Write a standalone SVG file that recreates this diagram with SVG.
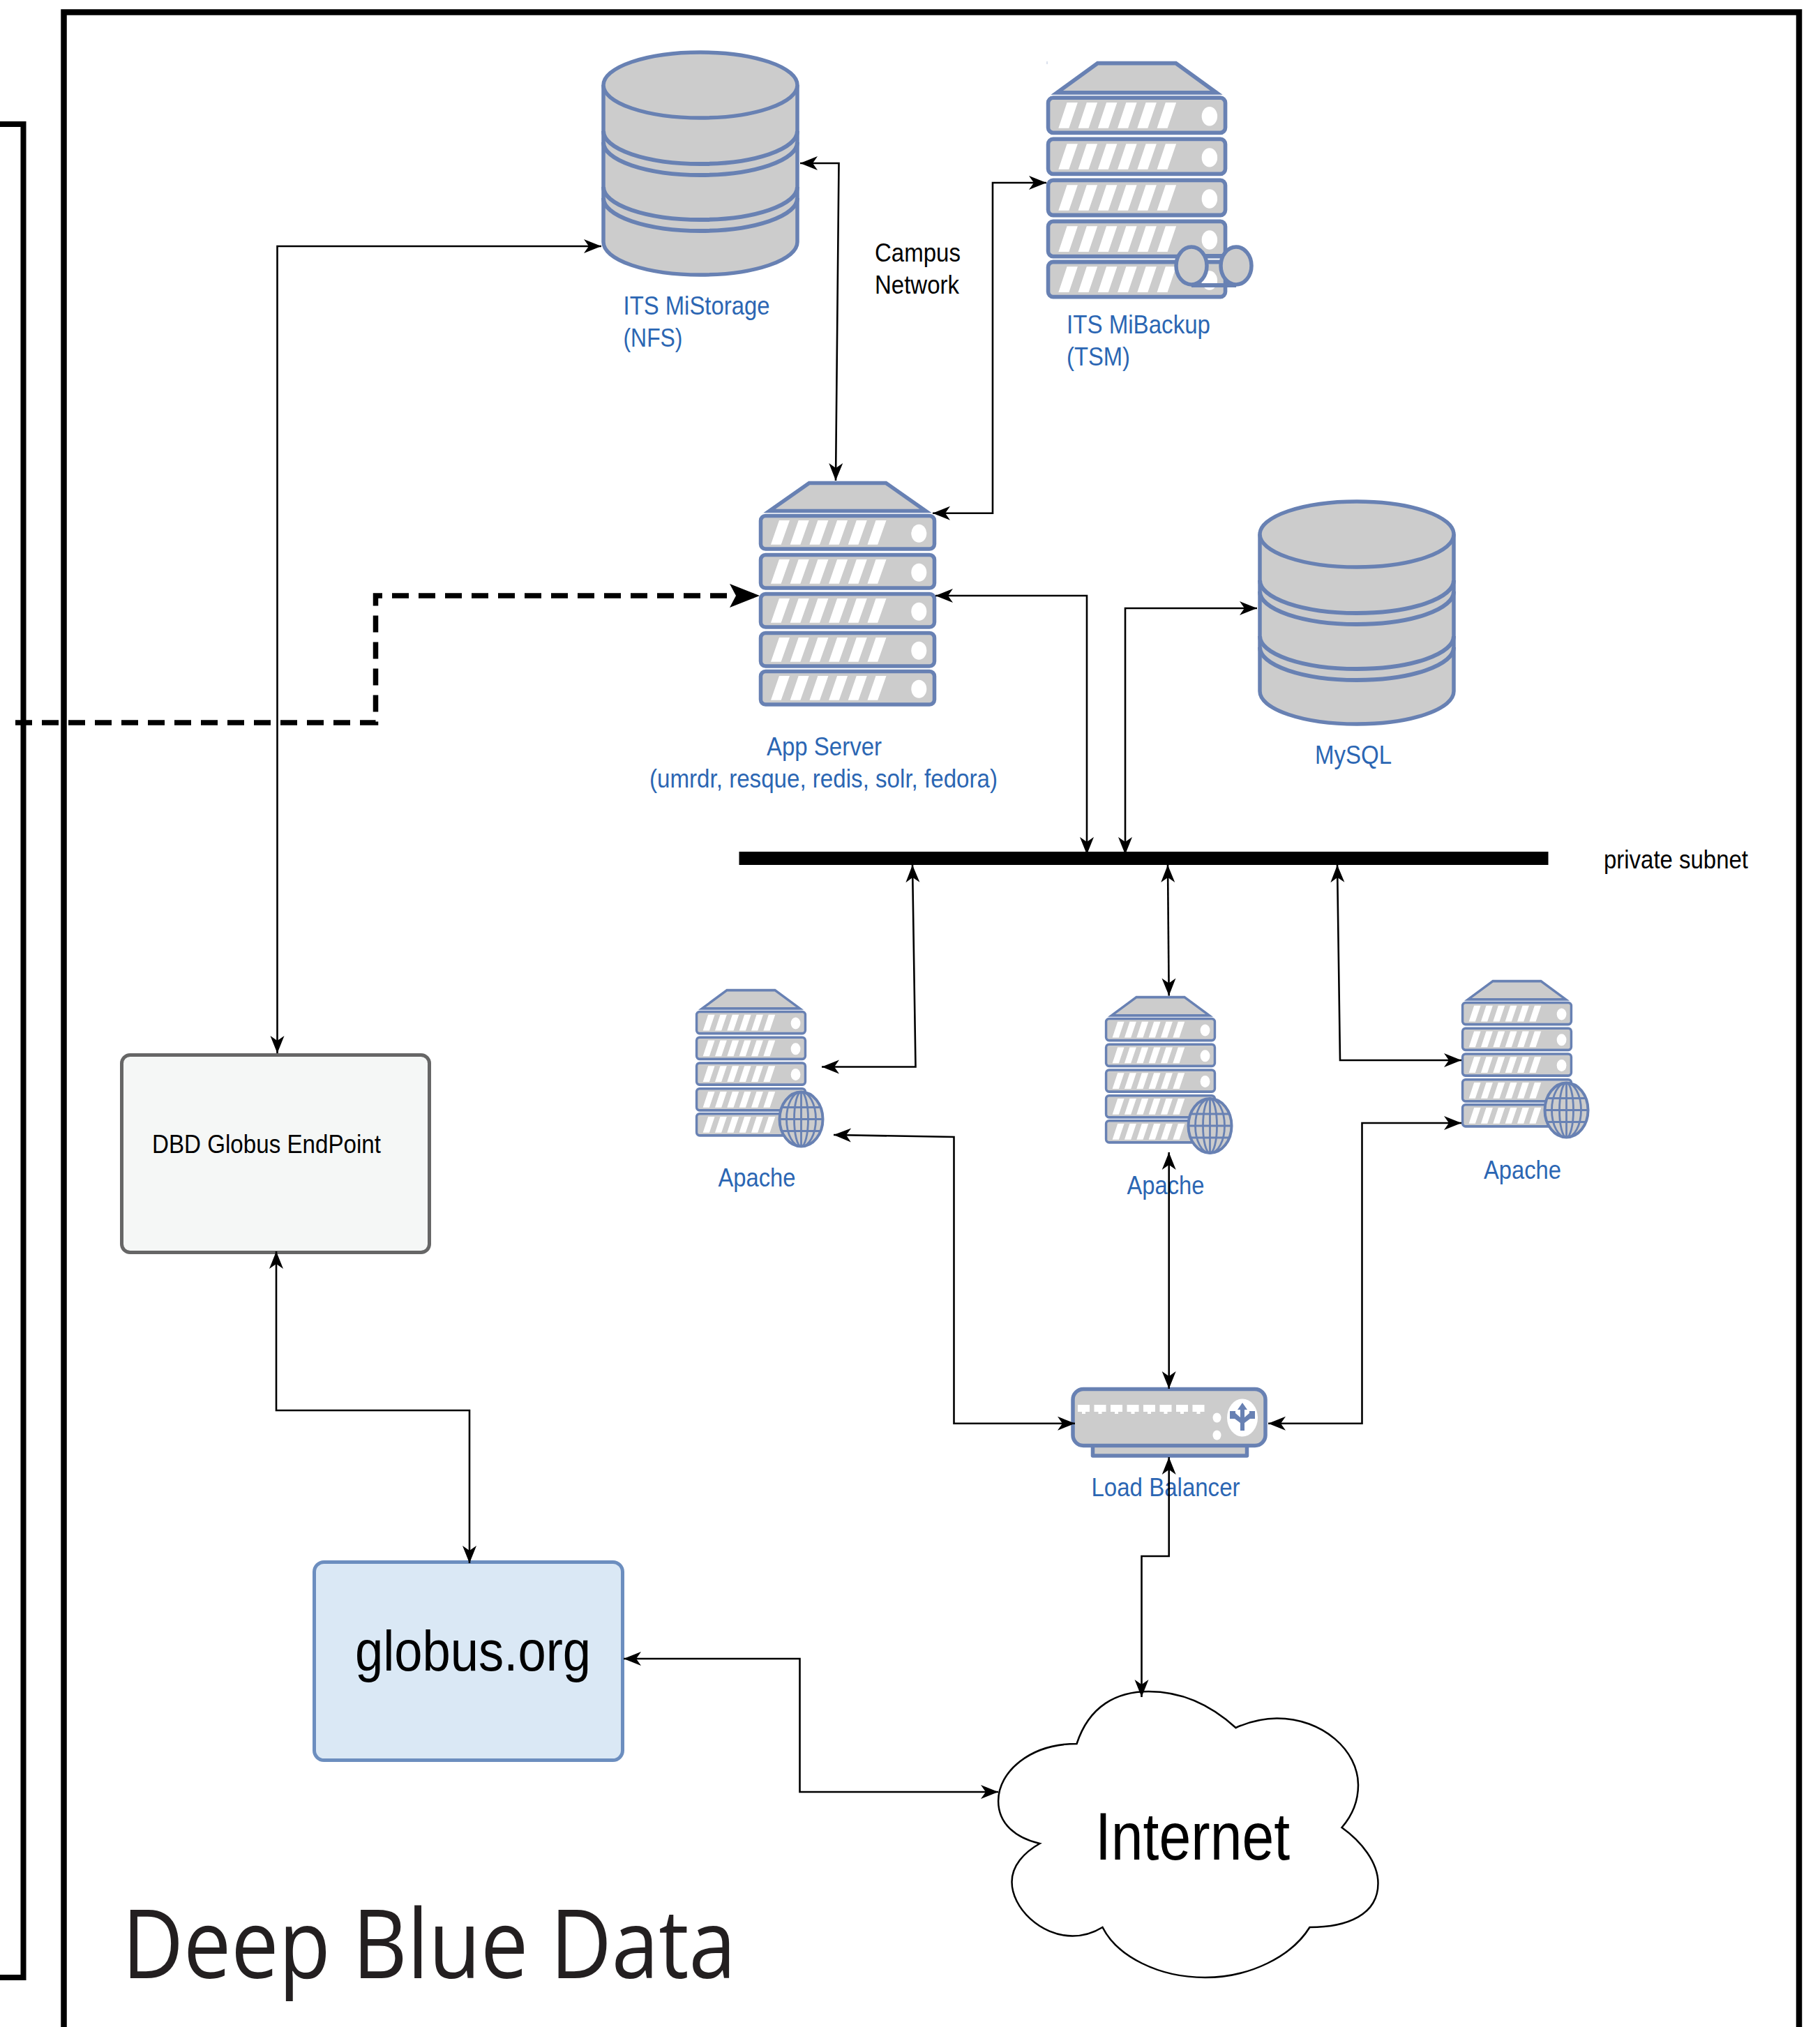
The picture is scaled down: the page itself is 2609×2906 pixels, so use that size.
<svg xmlns="http://www.w3.org/2000/svg" xmlns:xlink="http://www.w3.org/1999/xlink" width="2609" height="2906" viewBox="0 0 2609 2906">
<style>
.srv{fill:#CCCCCC;stroke:#6881B3;stroke-width:5.500;stroke-linejoin:round}
.top{fill:#CCCCCC;stroke:#6881B3;stroke-width:5.500;stroke-linejoin:miter;stroke-miterlimit:6}
.wht{fill:#FFFFFF;stroke:none}
.ln{fill:none;stroke:#6881B3;stroke-width:6}
.thin{fill:none;stroke:#6881B3;stroke-width:2.800}
.c{fill:none;stroke:#000000;stroke-width:2.600;marker-start:url(#a);marker-end:url(#a)}
.lbl{font-family:"Liberation Sans",Arial,sans-serif;font-size:37px;fill:#2B66B3}
.blk{font-family:"Liberation Sans",Arial,sans-serif;font-size:37px;fill:#000000}
</style>
<defs>
<marker id="a" markerUnits="userSpaceOnUse" markerWidth="28" markerHeight="24" refX="26" refY="12" orient="auto-start-reverse" viewBox="0 0 28 24"><path d="M1 2L26 12L1 22L8 12Z" fill="#000"/></marker>
<marker id="b" markerUnits="userSpaceOnUse" markerWidth="46" markerHeight="38" refX="44" refY="19" orient="auto" viewBox="0 0 46 38"><path d="M1 2L44 19L1 36L10 19Z" fill="#000"/></marker>
<g id="row">
<rect class="srv" x="2.500" y="49.500" width="249" height="47.500" rx="7"/>
<path class="wht" d="M17 90.700H31.700L44 56H29ZM44.700 90.700H59.400L71.700 56H56.700ZM72.400 90.700H87.100L99.400 56H84.400ZM100.100 90.700H114.800L127.100 56H112.100ZM127.800 90.700H142.500L154.800 56H139.800ZM155.500 90.700H170.200L182.500 56H167.500Z"/>
<ellipse class="wht" cx="229.300" cy="74.700" rx="11" ry="13"/>
</g>
<g id="server">
<polygon class="top" points="15,42.500 72,2.500 182,2.500 239,42.500"/>
<use xlink:href="#row" href="#row"/>
<use xlink:href="#row" href="#row" y="56"/>
<use xlink:href="#row" href="#row" y="112"/>
<use xlink:href="#row" href="#row" y="168"/>
<use xlink:href="#row" href="#row" y="223"/>
</g>
<g id="cyl">
<path class="srv" d="M865 122V347A139 47 0 0 0 1143 347V122"/>
<ellipse class="srv" cx="1004" cy="122" rx="139" ry="47"/>
<path class="ln" d="M865 188A139 47 0 0 0 1143 188M865 204A139 47 0 0 0 1143 204M865 268A139 47 0 0 0 1143 268M865 284A139 47 0 0 0 1143 284"/>
</g>
<g id="globe">
<ellipse class="srv" style="stroke-width:4" cx="0" cy="0" rx="31" ry="39"/>
<path class="thin" d="M0 -39V39M-31 0H31M-28 -17H28M-28 17H28"/>
<ellipse class="thin" cx="0" cy="0" rx="21" ry="39"/>
<ellipse class="thin" cx="0" cy="0" rx="10" ry="39"/>
</g>
</defs>

<g id="frames">
<path fill="none" stroke="#000" stroke-width="8.500" d="M91.500 2906V17.500H2579V2906"/>
<path fill="none" stroke="#000" stroke-width="8" d="M0 178H33.500V2835H0"/>
</g>

<g id="node-mistorage">
<use xlink:href="#cyl" href="#cyl"/>
<text class="lbl" x="893.500" y="451" textLength="210" lengthAdjust="spacingAndGlyphs">ITS MiStorage</text>
<text class="lbl" x="893.500" y="497" textLength="85" lengthAdjust="spacingAndGlyphs">(NFS)</text>
</g>
<g id="node-mibackup">
<use xlink:href="#server" href="#server" transform="translate(1500 88) scale(1.02 1.055)"/>
<rect x="1500.500" y="88" width="1" height="4" fill="#B9C6DE"/>
<path class="ln" d="M1708 409H1772M1708 367H1772"/>
<ellipse class="srv" cx="1708" cy="381" rx="22" ry="27"/>
<ellipse class="srv" cx="1772" cy="381" rx="22" ry="27"/>
<text class="lbl" x="1529" y="478" textLength="206" lengthAdjust="spacingAndGlyphs">ITS MiBackup</text>
<text class="lbl" x="1529" y="524" textLength="91" lengthAdjust="spacingAndGlyphs">(TSM)</text>
</g>
<g id="label-campus">
<text class="blk" x="1254" y="375" textLength="123" lengthAdjust="spacingAndGlyphs">Campus</text>
<text class="blk" x="1254" y="421" textLength="121" lengthAdjust="spacingAndGlyphs">Network</text>
</g>
<g id="node-app">
<use xlink:href="#server" href="#server" transform="translate(1088 690)"/>
<text class="lbl" x="1099" y="1083" textLength="165" lengthAdjust="spacingAndGlyphs">App Server</text>
<text class="lbl" x="931" y="1129" textLength="499" lengthAdjust="spacingAndGlyphs">(umrdr, resque, redis, solr, fedora)</text>
</g>
<g id="node-mysql">
<use xlink:href="#cyl" href="#cyl" transform="translate(941 644)"/>
<text class="lbl" x="1885" y="1095" textLength="110" lengthAdjust="spacingAndGlyphs">MySQL</text>
</g>
<g id="node-bus">
<rect x="1059.500" y="1221" width="1160" height="19" fill="#000"/>
<text class="blk" x="2299" y="1245" textLength="207" lengthAdjust="spacingAndGlyphs">private subnet</text>
</g>
<g id="node-apache1">
<use xlink:href="#server" href="#server" transform="translate(997 1418) scale(.626 .656)"/>
<use xlink:href="#globe" href="#globe" transform="translate(1148.500 1604.500)"/>
<text class="lbl" x="1029.500" y="1701" textLength="111" lengthAdjust="spacingAndGlyphs">Apache</text>
</g>
<g id="node-apache2">
<use xlink:href="#server" href="#server" transform="translate(1584 1428) scale(.626 .656)"/>
<use xlink:href="#globe" href="#globe" transform="translate(1734.500 1614)"/>
<text class="lbl" x="1615.500" y="1711.500" textLength="111" lengthAdjust="spacingAndGlyphs">Apache</text>
</g>
<g id="node-apache3">
<use xlink:href="#server" href="#server" transform="translate(2095 1405) scale(.626 .656)"/>
<use xlink:href="#globe" href="#globe" transform="translate(2245.500 1591.500)"/>
<text class="lbl" x="2127" y="1690" textLength="111" lengthAdjust="spacingAndGlyphs">Apache</text>
</g>
<g id="node-lb">
<rect class="srv" x="1566.500" y="2070" width="221" height="17"/>
<rect class="srv" x="1538" y="1991.500" width="276" height="81" rx="15"/>
<path class="wht" d="M1545 2014H1562V2024H1556V2027H1551V2024H1545ZM1568.500 2014H1585.500V2024H1579.500V2027H1574.500V2024H1568.500ZM1592 2014H1609V2024H1603V2027H1598V2024H1592ZM1615.500 2014H1632.500V2024H1626.500V2027H1621.500V2024H1615.500ZM1639 2014H1656V2024H1650V2027H1645V2024H1639ZM1662.500 2014H1679.500V2024H1673.500V2027H1668.500V2024H1662.500ZM1686 2014H1703V2024H1697V2027H1692V2024H1686ZM1709.500 2014H1726.500V2024H1720.500V2027H1715.500V2024H1709.500Z"/>
<ellipse class="wht" cx="1744.500" cy="2032.500" rx="6" ry="7"/>
<ellipse class="wht" cx="1744.500" cy="2057.500" rx="6" ry="7"/>
<ellipse class="wht" cx="1781" cy="2032.500" rx="22" ry="27"/>
<path fill="#6881B3" d="M1781 2011L1788 2021H1784V2032L1791 2026V2023H1799V2034H1792L1784 2040V2051H1778V2040L1770 2034H1763V2023H1771V2026L1778 2032V2021H1774Z"/>
<text class="lbl" x="1564.500" y="2145" textLength="213" lengthAdjust="spacingAndGlyphs">Load Balancer</text>
</g>
<g id="node-dbd">
<rect x="174.500" y="1512.500" width="441" height="283" rx="12" fill="#F5F7F6" stroke="#666666" stroke-width="5"/>
<text class="blk" x="218" y="1653" textLength="328" lengthAdjust="spacingAndGlyphs">DBD Globus EndPoint</text>
</g>
<g id="node-globus">
<rect x="450.500" y="2239.500" width="442" height="284" rx="14" fill="#DAE8F5" stroke="#6C8EBF" stroke-width="5"/>
<text x="509" y="2395" font-family="'Liberation Sans',Arial,sans-serif" font-size="82" textLength="338" lengthAdjust="spacingAndGlyphs" fill="#000">globus.org</text>
</g>
<g id="node-internet">
<path transform="translate(1.500 0)" fill="#FFF" stroke="#000" stroke-width="2.500" d="M1542 2500C1560 2445 1600 2425 1645 2425C1695 2425 1735 2445 1770 2477C1790 2468 1810 2463.500 1829 2463.500C1895 2463.500 1945.500 2510 1945.500 2559C1945.500 2585 1935 2605 1922 2620C1950 2640 1974 2670 1974 2700C1974 2745 1930 2763 1876 2763C1850 2805 1790 2835 1726 2835C1660 2835 1600 2805 1579 2763C1566 2771 1552 2775.500 1536 2775.500C1490 2775.500 1449 2735 1449 2698C1449 2675 1466 2656 1489 2643C1455 2635 1429.600 2615 1429.600 2582C1429.600 2540 1475 2500 1542 2500Z"/>
<text x="1570" y="2665.500" font-family="'Liberation Sans',Arial,sans-serif" font-size="96" textLength="279" lengthAdjust="spacingAndGlyphs" fill="#000">Internet</text>
</g>
<g id="title">
<text x="175" y="2836" font-family="'Open Sans','Noto Sans',sans-serif" font-size="137" textLength="880" lengthAdjust="spacingAndGlyphs" fill="#231F20">Deep Blue Data</text>
</g>

<g id="connectors">
<path class="c" d="M862 353H397.500V1510"/>
<path class="c" d="M1147 234H1202.500L1198 689"/>
<path class="c" d="M1500 262H1423V735.700H1337"/>
<path fill="none" stroke="#000" stroke-width="7.500" stroke-dasharray="24 14" marker-end="url(#b)" d="M22 1036H538.500V854H1089"/>
<path class="c" d="M1341 854H1558V1225"/>
<path class="c" d="M1613 1225V872H1802"/>
<path class="c" d="M1178 1529.500H1312.500L1308 1240"/>
<path class="c" d="M1674 1240L1675.700 1427.500"/>
<path class="c" d="M1917 1240L1921 1520H2095"/>
<path class="c" d="M1195 1627L1367.500 1630V2040.700H1541"/>
<path class="c" d="M1675.700 1652V1991"/>
<path class="c" d="M1818 2040.700H1952.500V1610H2095"/>
<path class="c" d="M1675.700 2089V2231H1636.500V2433"/>
<path class="c" d="M396 1794V2022H673V2241"/>
<path class="c" d="M894 2378H1146.500V2569H1431"/>
</g>
</svg>
